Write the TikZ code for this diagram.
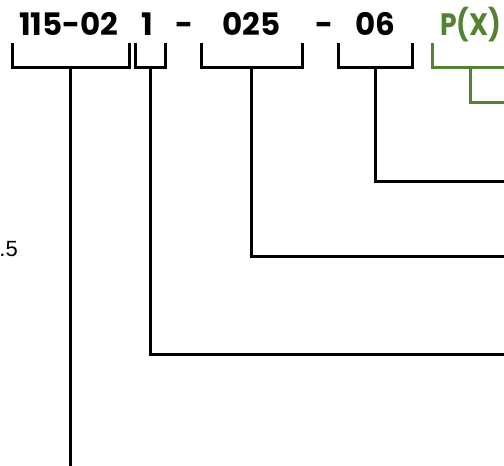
\documentclass[tikz,border=0pt]{standalone}
\usepackage{fontspec}
\setmainfont{Poppins}
\newfontfamily\arialfont{Liberation Sans}
\definecolor{pgreen}{HTML}{548235}
\begin{document}
\begin{tikzpicture}[x=1pt,y=-1pt,
  code/.style={font=\fontsize{31}{34}\selectfont\bfseries, inner sep=0pt, anchor=base west},
  brk/.style={line width=3pt, line join=miter},
  grn/.style={brk, draw=pgreen}]
\useasboundingbox (0,0) rectangle (504,466);
% texts
\node[code] (t1) at (19,35) {115-02};
\node[code] (t2) at (141,35) {1};
\node[code] (d1) at (175,35) {-};
\node[code] (t3) at (222,35) {025};
\node[code] (d2) at (315,35) {-};
\node[code] (t4) at (355,35) {06};
\node[code, text=pgreen] (t5) at (440,35) {\scalebox{0.86}[1]{P(X)}};
\node[font=\arialfont\fontsize{22}{24}\selectfont, inner sep=0pt, anchor=base east] (frag) at (18,256) {.5};
% brackets
\draw[brk] (12.5,43) -- (12.5,67.5) -- (129.5,67.5) -- (129.5,43);
\draw[brk] (70.5,67.5) -- (70.5,466);
\draw[brk] (135.5,43) -- (135.5,67.5) -- (165.5,67.5) -- (165.5,43);
\draw[brk] (150.5,67.5) -- (150.5,354.5) -- (504,354.5);
\draw[brk] (201.5,43) -- (201.5,67.5) -- (302.5,67.5) -- (302.5,43);
\draw[brk] (251.5,67.5) -- (251.5,256.5) -- (504,256.5);
\draw[brk] (338.5,43) -- (338.5,67.5) -- (412.5,67.5) -- (412.5,43);
\draw[brk] (375.5,67.5) -- (375.5,181.5) -- (504,181.5);
\draw[grn] (432.5,43) -- (432.5,67.5) -- (504,67.5);
\draw[grn] (470.5,67.5) -- (470.5,102.5) -- (504,102.5);
\end{tikzpicture}
\end{document}
